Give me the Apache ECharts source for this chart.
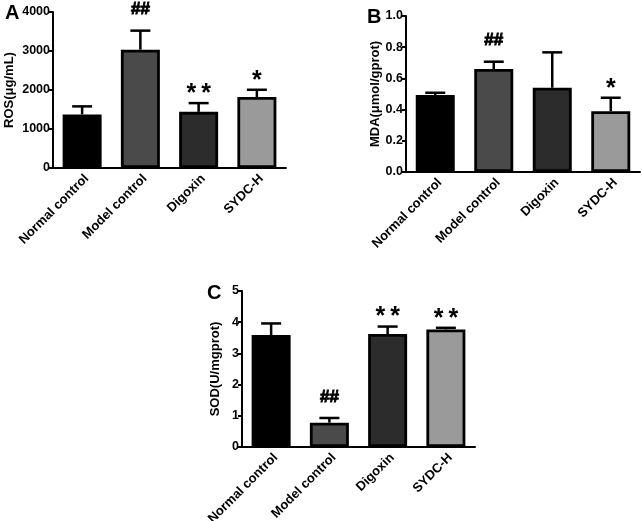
<!DOCTYPE html>
<html><head><meta charset="utf-8">
<script src="https://cdn.jsdelivr.net/npm/echarts@6/dist/echarts.min.js"></script>
<style>html,body{margin:0;padding:0;background:#fff}#c{width:642px;height:521px}</style>
</head><body><div id="c"></div>
<script>
const categories = ['Normal control', 'Model control', 'Digoxin', 'SYDC-H'];
const barColors = ['#000000', '#4a4a4a', '#2c2c2c', '#9a9a9a'];

const rosMean = [1375, 3035, 1440, 1820];
const rosErr = [205, 487, 224, 186];
const rosMarks = ['', '##', '**', '*'];

const mdaMean = [0.494, 0.66, 0.54, 0.39];
const mdaErr = [0.014, 0.047, 0.227, 0.086];
const mdaMarks = ['', '##', '', '*'];

const sodMean = [3.59, 0.78, 3.62, 3.77];
const sodErr = [0.37, 0.15, 0.24, 0.05];
const sodMarks = ['', '##', '**', '**'];

const FONT = '"Liberation Sans", Arial, sans-serif';

const grids = [
  {left: 53, top: 12, width: 233, height: 156, outerBoundsMode: 'none', containLabel: false},
  {left: 406, top: 16, width: 234, height: 156, outerBoundsMode: 'none', containLabel: false},
  {left: 242, top: 291, width: 233, height: 156, outerBoundsMode: 'none', containLabel: false}
];
const yCfg = [
  {name: 'ROS(μg/mL)', max: 4000, interval: 1000, gap: 37, dec: 0},
  {name: 'MDA(μmol/gprot)', max: 1.0, interval: 0.2, gap: 19, dec: 1},
  {name: 'SOD(U/mgprot)', max: 5, interval: 1, gap: 20, dec: 0}
];
const panels = [
  {mean: rosMean, err: rosErr, marks: rosMarks},
  {mean: mdaMean, err: mdaErr, marks: mdaMarks},
  {mean: sodMean, err: sodErr, marks: sodMarks}
];

const xAxis = grids.map((g, i) => ({
  type: 'category', gridIndex: i, data: categories,
  axisLine: {lineStyle: {color: '#000', width: 2}},
  axisTick: {alignWithLabel: true, length: 5, lineStyle: {color: '#000', width: 2}},
  axisLabel: {rotate: 45, margin: 4, verticalAlign: 'top', color: '#000', fontWeight: 'bold', fontSize: 13, fontFamily: FONT, interval: 0}
}));
const yAxis = yCfg.map((c, i) => ({
  type: 'value', gridIndex: i, min: 0, max: c.max, interval: c.interval,
  name: c.name, nameLocation: 'middle', nameGap: c.gap,
  nameTextStyle: {color: '#000', fontWeight: 'bold', fontSize: 13, fontFamily: FONT},
  axisLine: {show: true, lineStyle: {color: '#000', width: 2}},
  axisTick: {show: true, length: 4, lineStyle: {color: '#000', width: 2}},
  splitLine: {show: false},
  axisLabel: {margin: 3, color: '#000', fontWeight: 'bold', fontSize: 12.5, fontFamily: FONT,
    formatter: v => v.toFixed(c.dec)}
}));

const series = [];
panels.forEach((p, i) => {
  series.push({
    type: 'bar', xAxisIndex: i, yAxisIndex: i, barWidth: 39,
    data: p.mean.map((v, k) => ({value: v, itemStyle: {color: barColors[k]}})),
    itemStyle: {borderColor: '#000', borderWidth: 2.8},
    z: 2
  });
  series.push({
    type: 'custom', xAxisIndex: i, yAxisIndex: i, z: 3,
    data: p.mean.map((v, k) => [k, v, p.err[k]]),
    renderItem: function (params, api) {
      const k = api.value(0), m = api.value(1), e = api.value(2);
      const base = api.coord([k, m]);
      const top = api.coord([k, m + e]);
      const x = base[0];
      const children = [
        {type: 'line', shape: {x1: x, y1: base[1], x2: x, y2: top[1]}, style: {stroke: '#000', lineWidth: 2.5}},
        {type: 'line', shape: {x1: x - 10, y1: top[1], x2: x + 10, y2: top[1]}, style: {stroke: '#000', lineWidth: 2.5}}
      ];
      const mark = p.marks[params.dataIndex];
      if (mark) {
        const star = mark.indexOf('*') >= 0;
        children.push({
          type: 'text',
          style: {
            text: star ? mark.split('').join('\u2009') : mark,
            x: x, y: star ? top[1] - 9 : top[1] - 21,
            align: 'center', verticalAlign: 'middle',
            fontSize: star ? 25 : 17, fontWeight: 'bold', fontFamily: FONT, fill: '#000',
            stroke: star ? null : '#000', lineWidth: star ? 0 : 0.9
          }
        });
      }
      return {type: 'group', children: children};
    }
  });
});

const chart = echarts.init(document.getElementById('c'), null, {renderer: 'canvas'});
chart.setOption({
  animation: false,
  backgroundColor: '#fff',
  title: [
    {text: 'A', left: 0, top: -2},
    {text: 'B', left: 362, top: 2},
    {text: 'C', left: 202, top: 278}
  ].map(t => Object.assign(t, {textStyle: {fontSize: 20, fontWeight: 'bold', color: '#000', fontFamily: FONT}})),
  grid: grids,
  xAxis: xAxis,
  yAxis: yAxis,
  series: series
});
</script>
</body></html>
